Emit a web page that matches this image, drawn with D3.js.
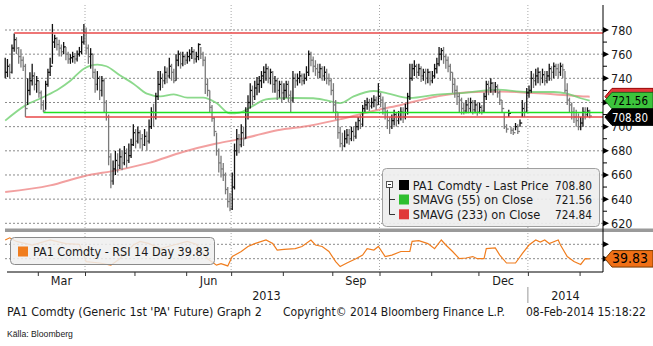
<!DOCTYPE html>
<html><head><meta charset="utf-8">
<script src="https://cdn.jsdelivr.net/npm/d3@7"></script>
<style>body{margin:0;background:#fff}svg{display:block}text{font-family:"DejaVu Sans Condensed","DejaVu Sans",sans-serif;fill:#1a1a1a}</style>
</head><body><svg id="c" width="653" height="346"></svg>
<script>
// ---------------- data ----------------
const close=[745,750,745,765,772,765,758,755,750,715, 730,738,742,735,738,728,718,713,735,745, 750,770,773,768,765,762,766,760,756,757, 758,756,760,762,770,778,765,758,760,745, 735,740,730,738,720,708,675,655,665,672, 668,675,670,678,672,676,685,695,688,695, 690,685,692,688,700,712,708,725,735,740, 738,745,742,750,745,738,755,760,752,758, 755,758,760,762,756,758,768,760,755,735, 730,716,707,696,680,670,665,660,648,638, 632,650,680,690,685,695,690,712,720,730, 725,732,735,738,742,745,748,740,745,735, 738,730,735,728,730,735,726,722,740,738, 740,742,738,740,745,760,755,750,748,745, 748,742,745,740,738,730,718,712,695,686, 684,690,693,690,696,692,700,705,702,715, 718,720,717,720,722,718,725,722,715,712, 705,700,705,710,705,708,712,708,715,725, 740,748,750,745,748,742,745,740,745,738, 742,748,752,760,763,758,755,750,745,735, 730,725,722,715,713,718,715,720,714,718, 712,716,713,725,735,732,736,730,733,728, 722,715,700,698,711,697,695,700,696,703, 715,712,728,730,740,738,742,745,740,743, 738,742,748,745,750,748,745,750,747,730, 722,718,712,708,705,700,703,712,710,713, 708.8];
const high=[757,756,752,768,777,774,766,764,758,752, 740,745,752,745,742,738,730,722,738,748, 757,785,776,774,772,768,770,766,762,760, 762,761,763,766,775,785,782,768,765,760, 748,746,742,742,740,722,710,678,672,680, 678,682,680,684,682,686,690,702,698,700, 697,694,698,696,706,716,719,728,746,746, 744,750,749,757,752,748,760,763,762,762, 760,762,764,766,764,762,769,766,762,758, 740,730,718,708,695,682,676,670,662,650, 645,662,686,698,694,702,700,716,726,736, 734,738,741,742,746,750,752,750,748,746, 742,740,738,738,736,738,738,730,746,744, 744,746,744,744,750,763,762,758,755,752, 752,750,750,748,744,740,736,722,712,700, 695,697,698,698,700,700,704,708,710,718, 722,724,723,724,726,725,736,728,725,720, 714,708,710,714,712,713,716,716,719,728, 752,752,755,752,752,750,748,748,748,746, 746,752,757,766,765,766,760,758,752,745, 740,734,728,724,720,722,724,724,722,722, 720,720,718,728,738,738,740,737,737,735, 730,722,712,702,714,700,699,703,702,706, 722,720,732,734,746,744,748,749,746,748, 746,746,752,750,753,752,752,753,752,746, 736,724,720,716,714,711,708,716,716,716, 714];
const low=[740,741,740,744,762,760,752,749,746,708, 718,726,734,730,728,724,714,712,714,733, 742,752,765,763,758,758,760,755,752,752, 753,752,754,758,760,768,760,752,748,740, 728,730,722,725,712,705,668,649,652,660, 662,665,664,668,666,670,674,684,682,686, 682,680,684,680,686,698,700,706,722,730, 732,735,736,740,738,736,738,750,748,750, 751,752,754,756,752,753,755,756,750,727, 725,712,704,692,676,662,658,655,644,633, 630,631,648,676,678,683,684,690,706,715, 718,722,726,728,732,736,738,736,735,728, 728,722,724,720,722,724,720,712,720,732, 734,736,734,735,738,742,750,745,742,740, 740,738,738,735,734,726,712,706,690,683, 680,683,686,685,688,688,690,697,698,700, 712,714,713,715,716,714,718,716,710,706, 698,694,698,701,700,702,705,703,706,710, 722,738,742,740,742,737,738,735,736,734, 736,740,744,750,755,752,748,745,738,728, 724,718,712,710,710,711,711,712,710,711, 709,711,710,712,722,726,728,726,728,724, 718,712,698,695,708,694,693,697,694,700, 708,708,712,724,728,732,734,736,734,736, 734,736,738,738,740,742,740,742,740,728, 718,712,706,703,700,697,697,700,706,708, 707];
// moving averages read at sample trading days
const sma55Day=[0,9,17,24,29,35,41,45,51,57,63,69,75,81,88,94,100,104,110,116,122,128,137,143,149,155,164,170,180,192,204,219,232,244,250,256,260];
const sma55Val=[705,717.6,724.5,731.4,738,748,751.3,750,742.5,735.6,727.3,725,726.7,724,724,719.5,711,711.5,717,722.6,723.5,723.7,723.5,721.7,719.5,725,729.5,727.5,723.7,726.5,728,730.6,728.7,728.7,727.3,723.5,721.56];
const sma233Day=[0,20,35,50,64,79,94,106,121,136,150,165,176,192,206,220,235,250,258,260];
const sma233Val=[646,651.4,659,664,670,679,686,690.3,697,701,706.6,713.5,718,725,728.5,729,727.8,726,725,724.84];
// RSI 14 day
const rsiDay=[0,2,5,12,20,27,33,36,42,47,51,57,60,64,69,75,81,85,90,94,96,99,101,105,108,111,116,119,121,124,129,132,136,138,141,144,147,149,152,156,159,161,164,166,169,172,176,180,181,184,188,191,194,196,199,202,205,208,210,213,214,218,220,223,227,230,233,236,238,240,242,246,247,250,253,256,258,260];
const rsiVal=[66,69,64,59,66,61,60,36,34,31,40,59,64,61,54,59,64,60,40,31,33,30,43,50,57,61,66,61,52,53,54,57,66,59,57,50,36,29,34,40,45,54,52,57,43,45,50,50,64,65,61,54,66,59,50,40,41,43,40,40,54,55,45,34,34,47,59,66,63,66,61,66,59,43,36,32,40,39.83];
// user trend lines
const trendStart=[4,9,17];
const trendValue=[777.5,708,711.7];
const priceTicks=[620,640,660,680,700,720,740,760,780];
const priceLabelTicks=[620,640,660,680,700,740,760,780]; // 720 label is hidden behind the value tags
const priceMinor=[630,650,670,690,710,730,750,770];
const rsiTicks=[40,60];
const lastPrice=708.80, sma55Last=721.56, sma233Last=724.84, rsiLast=39.83;
const legendLabels=["PA1 Comdty - Last Price","SMAVG (55) on Close","SMAVG (233) on Close"];
const legendValues=[lastPrice,sma55Last,sma233Last];
const rsiLegend="PA1 Comdty - RSI 14 Day";
const footer=["PA1 Comdty (Generic 1st 'PA' Future) Graph 2","Copyright\u00a9 2014 Bloomberg Finance L.P.","08-Feb-2014 15:18:22"];
const source="K\u00e4lla: Bloomberg";

// ---------------- layout ----------------
const svg=d3.select('#c');
const axisX=603, leftX=5, mainTop=5, mainBottom=228, rsiTop=232.5, rsiBottom=272;
const x=d3.scaleLinear().domain([0,260]).range([5.2,589.7]);
const y=d3.scaleLinear().domain([620,780]).range([223.3,30]);
const r=d3.scaleLinear().domain([40,60]).range([258.7,244.3]);
const cGreen="#2fbf2f", cRed="#e03a3a", cOrange="#f07d1e";

const days=[];{let d=new Date(2013,1,8);while(days.length<close.length){const w=d.getDay();if(w>0&&w<6)days.push(new Date(d));d.setDate(d.getDate()+1);}}
const monthStarts=[];days.forEach((d,i)=>{if(i>0&&d.getMonth()!==days[i-1].getMonth())monthStarts.push(i);});
const bx=i=>x(i-0.5);

svg.append('defs').html(`<clipPath id="cm"><rect x="0" y="${mainTop}" width="${axisX}" height="${mainBottom-mainTop}"/></clipPath>
<clipPath id="cr"><rect x="0" y="${rsiTop}" width="${axisX}" height="${rsiBottom-rsiTop}"/></clipPath>`);

svg.append('g').selectAll('line').data(priceTicks).join('line')
 .attr('x1',leftX).attr('x2',axisX).attr('y1',d=>y(d)).attr('y2',d=>y(d))
 .attr('stroke','#8a8a8a').attr('stroke-dasharray','2,2');
svg.append('g').selectAll('line').data(rsiTicks).join('line')
 .attr('x1',leftX).attr('x2',axisX).attr('y1',d=>r(d)).attr('y2',d=>r(d))
 .attr('stroke','#8a8a8a').attr('stroke-dasharray','2,2');
const qStarts=monthStarts.filter(i=>days[i].getMonth()%3===0);
svg.append('g').selectAll('line').data(qStarts).join('line')
 .attr('x1',d=>bx(d)).attr('x2',d=>bx(d)).attr('y1',mainTop).attr('y2',rsiBottom)
 .attr('stroke','#a8a8a8').attr('stroke-dasharray','1,2');

const main=svg.append('g').attr('clip-path','url(#cm)');
const ln=d3.line().curve(d3.curveMonotoneX);
main.append('path').attr('d',ln(sma233Day.map((d,i)=>[x(d),y(sma233Val[i])])))
 .attr('fill','none').attr('stroke','#ee8080').attr('stroke-width',2).attr('opacity',0.75);
main.append('path').attr('d',ln(sma55Day.map((d,i)=>[x(d),y(sma55Val[i])])))
 .attr('fill','none').attr('stroke','#6fcf6f').attr('stroke-width',1.8).attr('opacity',0.8);

const bars=main.append('g').selectAll('g').data(close).join('g')
 .attr('stroke',(c,i)=>i>0&&c<close[i-1]?'#7a7a7a':'#111').attr('stroke-width',1.3);
bars.append('line').attr('x1',(c,i)=>x(i)).attr('x2',(c,i)=>x(i)).attr('y1',(c,i)=>y(high[i])).attr('y2',(c,i)=>y(low[i]));
bars.append('line').attr('x1',(c,i)=>x(i)).attr('x2',(c,i)=>x(i)+2.2).attr('y1',c=>y(c)).attr('y2',c=>y(c));

main.append('g').selectAll('line').data(trendStart).join('line')
 .attr('x1',d=>x(d)).attr('x2',axisX).attr('y1',(d,i)=>y(trendValue[i])).attr('y2',(d,i)=>y(trendValue[i]))
 .attr('stroke',(d,i)=>i===2?'#22e022':'#e84848').attr('stroke-width',1.6);

svg.append('rect').attr('x',leftX).attr('y',228.5).attr('width',653-leftX).attr('height',3.5).attr('fill','#9a9a9a');

svg.append('g').attr('clip-path','url(#cr)').append('path')
 .attr('d',d3.line()(rsiDay.map((d,i)=>[x(d),r(rsiVal[i])])))
 .attr('fill','none').attr('stroke',cOrange).attr('stroke-width',1.2);

svg.append('line').attr('x1',axisX).attr('x2',axisX).attr('y1',mainTop).attr('y2',rsiBottom).attr('stroke','#000');
const ya=svg.append('g').attr('transform',`translate(${axisX},0)`)
 .call(d3.axisRight(y).tickValues(priceLabelTicks).tickSize(0).tickPadding(8).tickFormat(d3.format('d')));
ya.select('.domain').remove();
ya.selectAll('text').attr('font-size',12.5).attr('font-family','"DejaVu Sans Condensed","DejaVu Sans",sans-serif').attr('fill','#1a1a1a');
svg.append('g').selectAll('path').data(priceTicks).join('path')
 .attr('d',d=>`M${axisX},${y(d)-3}L${axisX+6},${y(d)}L${axisX},${y(d)+3}Z`).attr('fill','#000');
svg.append('g').selectAll('line').data(priceMinor).join('line')
 .attr('x1',axisX).attr('x2',axisX+4).attr('y1',d=>y(d)).attr('y2',d=>y(d)).attr('stroke','#000');
svg.append('g').selectAll('path').data(rsiTicks).join('path')
 .attr('d',d=>`M${axisX},${r(d)-3}L${axisX+6},${r(d)}L${axisX},${r(d)+3}Z`).attr('fill','#000');

svg.append('line').attr('x1',7).attr('x2',axisX).attr('y1',rsiBottom).attr('y2',rsiBottom).attr('stroke','#000');
const xa=svg.append('g').attr('transform',`translate(0,${rsiBottom})`)
 .call(d3.axisBottom(x).tickValues(monthStarts.map(i=>i-0.5)).tickSize(4).tickFormat(''));
xa.select('.domain').remove();
xa.selectAll('line').attr('stroke','#333');
const fmtM=d3.timeFormat('%b');
const labMonths=monthStarts.filter(i=>days[i].getMonth()%3===2);
svg.append('g').selectAll('text').data(labMonths).join('text')
 .attr('x',i=>{const k=monthStarts.indexOf(i);return (bx(i)+bx(monthStarts[k+1]))/2;})
 .attr('y',284.5).attr('text-anchor','middle').attr('font-size',12.5).text(i=>fmtM(days[i]));
const jan=monthStarts.find(i=>days[i].getMonth()===0);
const yearSpans=[[leftX,bx(jan),days[0].getFullYear()],[bx(jan),axisX,days[jan].getFullYear()]];
svg.append('g').selectAll('text').data(yearSpans).join('text')
 .attr('x',d=>(d[0]+d[1])/2).attr('y',300).attr('text-anchor','middle').attr('font-size',12.5).text(d=>d[2]);
svg.append('line').attr('x1',bx(jan)).attr('x2',bx(jan)).attr('y1',287).attr('y2',303).attr('stroke','#999');

function fit(sel,target){const w=sel.node().getComputedTextLength();const fs=parseFloat(sel.attr('font-size'));sel.attr('font-size',fs*target/w);return fs*target/w;}

// main legend
const lg=svg.append('g');
lg.append('rect').attr('x',382.5).attr('y',168.5).attr('width',217).attr('height',58).attr('rx',4)
 .attr('fill','#eeeeee').attr('fill-opacity',0.92).attr('stroke','#a0a0a0');
const rowsY=[185,199.5,214.3];
const sqCol=['#000',cGreen,cRed];
lg.append('rect').attr('x',386.5).attr('y',181.5).attr('width',6).attr('height',6).attr('fill','#fff').attr('stroke','#555');
lg.append('line').attr('x1',388).attr('x2',391).attr('y1',184.5).attr('y2',184.5).attr('stroke','#333');
lg.append('path').attr('d','M389.5,187.5V214.5H395M389.5,199.5H395').attr('fill','none').attr('stroke','#333');
lg.selectAll('rect.sq').data(rowsY).join('rect').attr('class','sq').attr('x',399).attr('y',d=>d-5).attr('width',10).attr('height',10).attr('fill',(d,i)=>sqCol[i]);
const t0=lg.append('text').attr('x',412.7).attr('y',rowsY[0]+4.6).attr('font-size',13).text(legendLabels[0]);
const lfs=fit(t0,136);
lg.selectAll('text.lab').data(legendLabels.slice(1)).join('text').attr('class','lab').attr('x',412.7)
 .attr('y',(d,i)=>rowsY[i+1]+4.6).attr('font-size',lfs).text(d=>d);
const v0=lg.append('text').attr('x',592).attr('text-anchor','end').attr('y',rowsY[0]+4.6).attr('font-size',13).text(d3.format('.2f')(legendValues[0]));
const vfs=fit(v0,37);
lg.selectAll('text.val').data(legendValues.slice(1)).join('text').attr('class','val').attr('x',592).attr('text-anchor','end')
 .attr('y',(d,i)=>rowsY[i+1]+4.6).attr('font-size',vfs).text(d=>d3.format('.2f')(d));

// RSI legend
const rg=svg.append('g');
rg.append('rect').attr('x',10.5).attr('y',237.5).attr('width',204).attr('height',27).attr('rx',4)
 .attr('fill','#eeeeee').attr('fill-opacity',0.85).attr('stroke','#8a8a8a');
rg.append('rect').attr('x',18).attr('y',246.5).attr('width',10).attr('height',10).attr('fill',cOrange);
const rt=rg.append('text').attr('x',33).attr('y',256).attr('font-size',13).text(rsiLegend+' '+d3.format('.2f')(rsiLast));
fit(rt,177);

// value tags
function tag(cy,fill,stroke,txt,tcol){
 const h=16.5,x0=605;
 const g=svg.append('g');
 g.append('path').attr('d',`M${x0},${cy}L${x0+7},${cy-h/2}H653V${cy+h/2}H${x0+7}Z`).attr('fill',fill).attr('stroke',stroke).attr('stroke-width',1);
 if(txt){const t=g.append('text').attr('x',612).attr('y',cy+4.6).attr('font-size',13).style('fill',tcol).text(txt);fit(t,36);}
}
tag(y(sma233Last),cRed,'#900','', '#000');
tag(y(sma55Last),'#3cc43c','#1a6a1a',d3.format('.2f')(sma55Last),'#000');
tag(Math.max(y(lastPrice),y(sma55Last)+16.5),'#000','#000',d3.format('.2f')(lastPrice),'#fff');
tag(r(rsiLast),'#f07016','#7a3a00',d3.format('.2f')(rsiLast),'#000');

// footer
const f1=svg.append('text').attr('x',7).attr('y',316).attr('font-size',12.5).text(footer[0]);fit(f1,255);
const f2=svg.append('text').attr('x',283).attr('y',316).attr('font-size',12.5).text(footer[1]);fit(f2,222);
const f3=svg.append('text').attr('x',526).attr('y',316).attr('font-size',12.5).text(footer[2]);fit(f3,120);
const s1=svg.append('text').attr('x',7).attr('y',336.5).attr('font-size',10).style('font-family','"Liberation Sans Narrow","Liberation Sans",sans-serif').text(source);fit(s1,66);
</script></body></html>
